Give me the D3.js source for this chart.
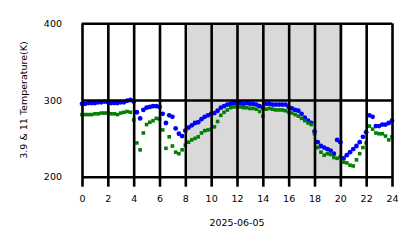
<!DOCTYPE html>
<html>
<head>
<meta charset="utf-8">
<script src="https://cdn.jsdelivr.net/npm/d3@7"></script>
<style>
  body { margin: 0; background: #fff; }
  svg { display: block; font-family: "DejaVu Sans", sans-serif; }
</style>
</head>
<body>
<svg id="chart" width="418" height="248"></svg>
<script>
// hours of the day, 15 min steps
const hours = d3.range(0, 24.01, 0.25);

// 3.9 um channel (blue)
const t39 = [
  295, 295, 296, 296, 296, 297, 297, 298, 297, 296, 296, 296, 297, 297, 299, 300,
  298, 284, 276, 287, 290, 291, 292, 292, 291, 282, 270, 280, 278, 263, 256, 253,
  260, 264, 267, 270, 271, 275, 278, 280, 282, 283, 286, 290, 292, 294, 295, 296,
  296, 296, 295, 296, 295, 295, 294, 292, 290, 295, 295, 294, 294, 294, 294, 294,
  291, 289, 287, 286, 282, 277, 273, 270, 259, 245, 240, 238, 236, 234, 230, 248,
  245, 224, 228, 232, 236, 240, 245, 252, 258, 280, 278, 266, 266, 268, 268, 270,
  273
];

// 11 um channel (green)
const t11 = [
  281, 281, 281, 281, 282, 282, 283, 283, 283, 282, 282, 281, 283, 284, 285, 284,
  274, 244, 235, 257, 268, 271, 273, 276, 275, 261, 237, 252, 240, 232, 230, 235,
  241, 245, 248, 250, 252, 257, 260, 261, 262, 265, 272, 280, 284, 287, 290, 291,
  291, 291, 290, 290, 289, 289, 288, 285, 279, 288, 289, 288, 287, 287, 287, 286,
  284, 283, 281, 279, 276, 273, 270, 268, 256, 238, 232, 228, 230, 229, 225, 224,
  226, 219, 218, 215, 214, 222, 230, 238, 244, 266, 262, 257, 256, 256, 253, 248,
  252
];

const xTicks = d3.range(0, 25, 2);
const yTicks = [200, 300, 400];
const shade = [8.2, 20.2];
const dateLabel = "2025-06-05";
const yTitle = "3.9 & 11 Temperature(K)";

const plotLeft = 82, plotRight = 392, plotTop = 23.3, plotBottom = 176.7;

const svg = d3.select("#chart");

const x = d3.scaleLinear().domain([0, 24]).range([plotLeft, plotRight]);
const y = d3.scaleLinear().domain([200, 400]).range([plotBottom, plotTop]);

// daytime shading
svg.append("rect")
  .attr("x", x(shade[0]))
  .attr("y", plotTop)
  .attr("width", x(shade[1]) - x(shade[0]))
  .attr("height", plotBottom - plotTop)
  .attr("fill", "#d9d9d9");

const blue = hours.map((h, i) => ({ h, v: t39[i] }));
const green = hours.map((h, i) => ({ h, v: t11[i] }));

svg.append("g").selectAll("circle")
  .data(blue)
  .join("circle")
  .attr("cx", d => x(d.h))
  .attr("cy", d => y(d.v))
  .attr("r", 2.4)
  .attr("fill", "#0000ff");

svg.append("g").selectAll("rect")
  .data(green)
  .join("rect")
  .attr("x", d => x(d.h) - 1.8)
  .attr("y", d => y(d.v) - 1.8)
  .attr("width", 3.6)
  .attr("height", 3.6)
  .attr("fill", "#008000");

// grid + ticks (drawn above the markers)
const xAxis = svg.append("g")
  .attr("transform", `translate(0,${plotBottom})`)
  .call(d3.axisBottom(x).tickValues(xTicks).tickSize(10).tickPadding(9).tickFormat(d3.format("d")));
xAxis.select(".domain").remove();
xAxis.selectAll("line")
  .attr("y1", -(plotBottom - plotTop))
  .attr("stroke", "#000")
  .attr("stroke-width", 2.6);
xAxis.selectAll("text")
  .attr("font-size", 9.5)
  .attr("font-family", "DejaVu Sans")
  .attr("fill", "#000");

const yAxis = svg.append("g")
  .attr("transform", `translate(${plotLeft},0)`)
  .call(d3.axisLeft(y).tickValues(yTicks).tickSize(10).tickPadding(10));
yAxis.select(".domain").remove();
yAxis.selectAll("line")
  .attr("x2", plotRight - plotLeft)
  .attr("stroke", "#000")
  .attr("stroke-width", 2.6);
yAxis.selectAll("text")
  .attr("font-size", 9.5)
  .attr("font-family", "DejaVu Sans")
  .attr("fill", "#000");

svg.append("text")
  .attr("x", (plotLeft + plotRight) / 2)
  .attr("y", 226)
  .attr("text-anchor", "middle")
  .attr("font-size", 9.5)
  .attr("fill", "#000")
  .text(dateLabel);

svg.append("text")
  .attr("transform", `translate(27,${(plotTop + plotBottom) / 2}) rotate(-90)`)
  .attr("text-anchor", "middle")
  .attr("font-size", 9.5)
  .attr("fill", "#000")
  .text(yTitle);
</script>
</body>
</html>
